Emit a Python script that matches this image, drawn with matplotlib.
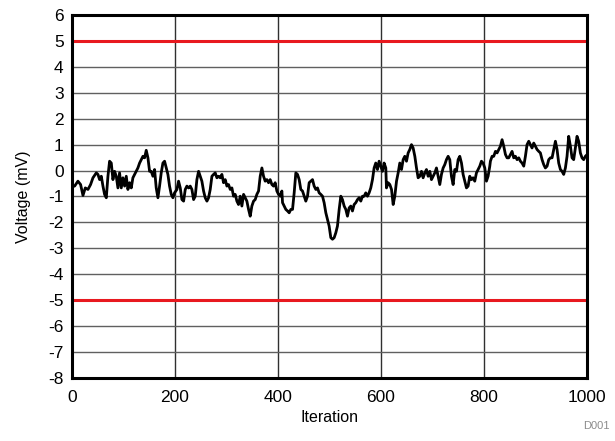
import matplotlib
matplotlib.use("Agg")
from matplotlib import pyplot as plt

# Readings taken off the reference trace (iteration, mV)
iteration = [
    0, 5.2, 11.6, 16.8, 21.4, 25.9, 31.1, 36.2, 40.8, 47.3, 50.5, 53.7, 57.0, 60.2, 63.4, 66.7,
    69.9, 73.1, 76.4, 79.6, 82.8, 86.1, 89.3, 92.5, 95.8, 99.0, 102.3, 105.5, 108.7, 112.0,
    115.2, 118.4, 121.7, 124.9, 128.1, 131.4, 134.6, 137.9, 141.1, 144.3, 147.6, 150.8, 154.0,
    157.3, 160.5, 163.7, 167.0, 170.2, 173.4, 176.7, 179.9, 183.2, 186.4, 189.6, 192.9, 196.1,
    199.3,
    203.9, 207.1, 210.4, 213.6, 216.9, 220.1, 223.3, 226.6, 229.8, 233.0, 236.3, 239.5, 242.7,
    246.0, 249.2, 252.4, 255.7, 258.9, 262.2, 265.4, 268.6, 271.9, 275.1, 278.3, 281.6, 284.8,
    288.0, 291.3, 294.5, 297.8, 301.0, 304.2, 307.5, 310.7, 313.9, 317.2, 320.4, 323.6, 326.9,
    330.1, 333.4, 336.6, 339.8, 343.1, 346.3, 349.5, 352.8, 356.0, 359.2, 362.5, 365.7, 369.0,
    372.2, 375.4, 378.7, 381.9, 385.1, 388.4, 391.6, 394.8, 398.1, 401.3, 404.5, 407.8,
    409.1, 412.3, 415.5, 418.8, 422.0, 425.2, 428.5, 431.7, 434.9, 438.2, 441.4, 444.6, 447.9,
    451.1, 454.3, 457.6, 460.8, 464.1, 467.3, 470.5, 473.8, 477.0, 480.2, 483.5, 486.7, 489.9,
    493.2, 496.4, 499.6, 502.9, 506.1, 509.4, 512.6, 515.8, 519.1, 522.3, 525.5, 528.8, 532.0,
    535.2, 538.5, 541.7, 544.9, 548.2, 551.4, 554.7, 557.9, 561.1, 564.4, 567.6, 570.8, 574.1,
    577.3, 580.5, 583.8, 587.0, 590.2, 593.5, 596.7, 599.9, 603.2, 606.4, 609.7,
    611.0, 614.3, 617.5, 620.8, 624.0, 627.2, 630.5, 633.7, 636.9, 640.2, 643.4, 646.6, 649.9,
    653.1, 656.3, 659.6, 662.8, 666.1, 669.3, 672.5, 675.8, 679.0, 682.2, 685.5, 688.7, 691.9,
    695.2, 698.4, 701.7, 704.9, 708.1, 711.4, 714.6, 717.8, 721.1, 724.3, 727.5, 730.8, 734.0,
    737.2, 740.5, 743.7, 747.0, 750.2, 753.4, 756.7, 759.9, 763.1, 766.4, 769.6, 772.8, 776.1,
    779.3, 782.5, 785.8, 789.0, 792.3, 795.5, 798.7, 802.0, 805.2, 808.4, 811.7,
    812.9, 816.2, 819.4, 822.7, 825.9, 829.1, 832.4, 835.6, 838.8, 842.1, 845.3, 848.5, 851.8,
    855.0, 858.2, 861.5, 864.7, 868.0, 871.2, 874.4, 877.7, 880.9, 884.1, 887.4, 890.6, 893.8,
    897.1, 900.3, 903.6, 906.8, 910.0, 913.3, 916.5, 919.7, 923.0, 926.2, 929.4, 932.7, 935.9,
    939.2, 942.4, 945.6, 948.9, 952.1, 955.3, 958.6, 961.8, 965.0, 968.3, 971.5, 974.7, 978.0,
    981.2, 984.4, 987.7, 990.9, 994.1, 997.4, 1000,
]
voltage = [
    -0.62, -0.60, -0.41, -0.54, -0.96, -0.67, -0.73, -0.54, -0.28, -0.09, -0.15, -0.35, -0.22,
    -0.60, -0.92, -1.05, -0.22, 0.36, 0.29, -0.35, -0.03, -0.22, -0.67, -0.09, -0.67, -0.28,
    -0.60, -0.22, -0.73, -0.47, -0.67, -0.28, -0.15, -0.03, 0.10, 0.29, 0.42, 0.55, 0.49, 0.78,
    0.49, -0.03, -0.03, -0.22, 0.04, -0.67, -1.05, -0.60, -0.09, 0.29, 0.36, 0.10, -0.15, -0.60,
    -0.92, -1.05, -0.86,
    -0.73, -0.41, -0.67, -1.12, -1.18, -0.73, -0.60, -0.67, -0.60, -0.73, -1.12, -0.99, -0.35,
    -0.03, -0.22, -0.41, -0.79, -1.05, -1.18, -1.05, -0.73, -0.22, -0.15, -0.09, -0.28, -0.22,
    -0.28, -0.15, -0.47, -0.35, -0.60, -0.54, -0.73, -0.67, -0.99, -0.92, -1.18, -1.31, -0.99,
    -1.37, -0.92, -1.05, -1.18, -1.50, -1.76, -1.37, -1.18, -1.12, -0.92, -0.79, -0.22, 0.10,
    -0.22, -0.41, -0.35, -0.47, -0.35, -0.54, -0.60, -0.47, -0.79, -0.92, -0.99, -0.79,
    -1.24, -1.37, -1.50, -1.56, -1.63, -1.50, -1.50, -0.86, -0.09, -0.15, -0.35, -0.73, -0.79,
    -0.99, -1.18, -0.99, -0.47, -0.41, -0.35, -0.60, -0.73, -0.67, -0.86, -0.92, -0.99, -1.24,
    -1.63, -1.88, -2.14, -2.59, -2.65, -2.59, -2.40, -2.14, -1.50, -0.99, -1.12, -1.37, -1.50,
    -1.76, -1.44, -1.37, -1.56, -1.31, -1.24, -1.12, -1.05, -1.18, -0.99, -0.99, -0.86, -0.99,
    -0.86, -0.67, -0.35, 0.10, 0.29, 0.04, 0.36, 0.17, -0.03, 0.29, 0.10,
    -0.67, -0.47, -0.54, -0.73, -1.31, -0.99, -0.41, -0.09, 0.29, 0.04, 0.42, 0.55, 0.36,
    0.68, 0.81, 1.00, 0.87, 0.55, 0.10, -0.28, -0.22, -0.03, -0.28, -0.09, 0.04, -0.22,
    -0.03, -0.35, -0.22, -0.09, 0.10, -0.22, -0.54, -0.15, 0.10, 0.23, 0.42, 0.55, 0.42,
    -0.22, -0.54, 0.04, -0.03, 0.42, 0.55, 0.29, -0.15, -0.41, -0.67, -0.60, -0.22, -0.35,
    -0.28, -0.41, -0.09, 0.04, 0.17, 0.36, 0.29, 0.10, -0.41, -0.22, 0.17,
    0.36, 0.55, 0.55, 0.74, 0.68, 0.81, 0.94, 1.19, 0.94, 0.62, 0.49, 0.49, 0.62,
    0.74, 0.49, 0.55, 0.42, 0.49, 0.36, 0.29, 0.17, 0.55, 1.00, 1.13, 1.00, 0.87,
    1.06, 0.94, 0.81, 0.74, 0.68, 0.42, 0.23, 0.10, 0.17, 0.42, 0.49, 0.49, 0.81,
    1.13, 0.81, 0.29, 0.04, -0.03, -0.15, 0.10, 0.55, 1.32, 0.94, 0.49, 0.42, 0.87,
    1.32, 1.13, 0.68, 0.49, 0.42, 0.55, 0.60,
]
limits = [5, -5]
x_ticks = [0, 200, 400, 600, 800, 1000]
y_ticks = list(range(-8, 7))

plt.rcParams['font.family'] = ['Liberation Sans', 'DejaVu Sans']
plt.rcParams['axes.unicode_minus'] = False

fig = plt.figure(figsize=(6.15, 4.41), dpi=100)
ax = fig.add_axes([0.117, 0.143, 0.837, 0.823])

for limit in limits:
    ax.axhline(limit, color='#e8191f', linewidth=2.2, zorder=2)
ax.plot(iteration, voltage, color='black', linewidth=2, zorder=3)

ax.set_xlim(0, 1000)
ax.set_ylim(-8, 6)
ax.set_xticks(x_ticks)
ax.set_yticks(y_ticks)
ax.grid(True, axis='x', color='#303030', linewidth=1, zorder=1)
ax.grid(True, axis='y', color='#606060', linewidth=1, zorder=1)
ax.tick_params(axis='y', length=0, labelsize=12.5, pad=6)
ax.tick_params(axis='x', length=0, labelsize=12.5, pad=9)
for spine in ax.spines.values():
    spine.set_linewidth(2.2)
    spine.set_zorder(4)

ax.set_xlabel('Iteration', fontsize=11.5, labelpad=3)
ax.set_ylabel('Voltage (mV)', fontsize=11.5, labelpad=12)
fig.text(0.992, 0.022, 'D001', color='#8c8c8c', fontsize=8, ha='right', va='bottom')

plt.savefig('out.png', dpi=100)
